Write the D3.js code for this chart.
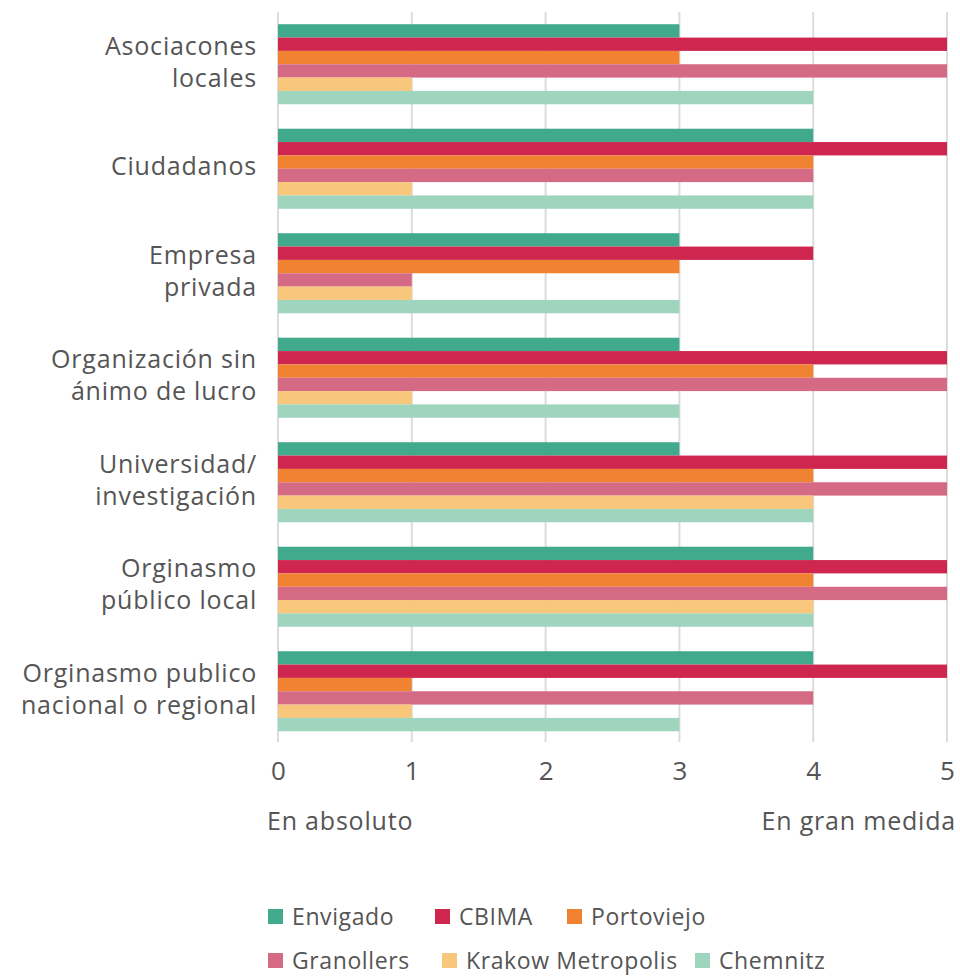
<!DOCTYPE html>
<html>
<head>
<meta charset="utf-8">
<script src="https://cdn.jsdelivr.net/npm/d3@7"></script>
<style>
  body { margin: 0; background: #fff; }
  text { font-family: "Open Sans", sans-serif; fill: #555; }
</style>
</head>
<body>
<svg width="960" height="976"></svg>
<script>
// categories, two lines each
var categories = [
  ["Asociacones", "locales"],
  ["Ciudadanos"],
  ["Empresa", "privada"],
  ["Organización sin", "ánimo de lucro"],
  ["Universidad/", "investigación"],
  ["Orginasmo", "público local"],
  ["Orginasmo publico", "nacional o regional"]
];
var seriesNames = ["Envigado", "CBIMA", "Portoviejo", "Granollers", "Krakow Metropolis", "Chemnitz"];
var seriesColors = ["#41a98c", "#cf2650", "#f08232", "#d56a84", "#f9c77b", "#9fd5bf"];

var envigado   = [3, 4, 3, 3, 3, 4, 4];
var cbima      = [5, 5, 4, 5, 5, 5, 5];
var portoviejo = [3, 4, 3, 4, 4, 4, 1];
var granollers = [5, 4, 1, 5, 5, 5, 4];
var krakow     = [1, 1, 1, 1, 4, 4, 1];
var chemnitz   = [4, 4, 3, 3, 4, 4, 3];
var seriesValues = [envigado, cbima, portoviejo, granollers, krakow, chemnitz];

var xTicks = [0, 1, 2, 3, 4, 5];

var svg = d3.select("svg");

var x = d3.scaleLinear().domain([0, 5]).range([278, 947]);
var y = d3.scaleBand()
  .domain(d3.range(categories.length))
  .range([12, 743.5])
  .paddingInner(0.234)
  .paddingOuter(0.117);
var ySub = d3.scaleBand()
  .domain(d3.range(seriesNames.length))
  .range([0, y.bandwidth()]);

// grid
svg.append("g")
  .selectAll("line")
  .data(xTicks)
  .enter()
  .append("line")
  .attr("x1", d => x(d))
  .attr("x2", d => x(d))
  .attr("y1", 12)
  .attr("y2", 742)
  .attr("stroke", "#dcdcdc")
  .attr("stroke-width", 2);

// bars
var groups = svg.append("g")
  .selectAll("g")
  .data(categories)
  .enter()
  .append("g")
  .attr("transform", (d, i) => "translate(0," + y(i) + ")");

groups.selectAll("rect")
  .data((d, i) => seriesValues.map((s, j) => ({ s: j, v: s[i] })))
  .enter()
  .append("rect")
  .attr("x", x(0))
  .attr("y", d => ySub(d.s))
  .attr("width", d => x(d.v) - x(0))
  .attr("height", ySub.bandwidth())
  .attr("fill", d => seriesColors[d.s]);

// category labels
groups.append("text")
  .attr("text-anchor", "end")
  .attr("font-size", 25)
  .attr("letter-spacing", 0.8)
  .attr("x", 257)
  .each(function (d) {
    var t = d3.select(this);
    var mid = y.bandwidth() / 2 - 2;
    var lh = 32;
    var start = mid - (d.length - 1) * lh / 2;
    d.forEach((line, k) => {
      t.append("tspan")
        .attr("x", 257)
        .attr("y", start + k * lh)
        .attr("dy", "0.35em")
        .text(line);
    });
  });

// x axis labels
var xAxis = d3.axisBottom(x).tickValues(xTicks).tickFormat(d3.format("d")).tickSize(0).tickPadding(0);
var ax = svg.append("g")
  .attr("transform", "translate(0,762)")
  .call(xAxis);
ax.select(".domain").remove();
ax.selectAll("text")
  .attr("font-size", 26)
  .attr("fill", "#555")
  .style("font-family", "'Open Sans', sans-serif");

svg.append("text")
  .attr("x", 267)
  .attr("y", 830)
  .attr("font-size", 25)
  .attr("letter-spacing", 0.8)
  .text("En absoluto");
svg.append("text")
  .attr("x", 956)
  .attr("y", 830)
  .attr("font-size", 25)
  .attr("letter-spacing", 0.8)
  .attr("text-anchor", "end")
  .text("En gran medida");

// legend
var legendPos = [
  [268, 917], [435, 917], [567, 917],
  [268, 961], [442, 961], [695, 961]
];
var leg = svg.append("g")
  .selectAll("g")
  .data(seriesNames)
  .enter()
  .append("g")
  .attr("transform", (d, i) => "translate(" + legendPos[i][0] + "," + legendPos[i][1] + ")");
leg.append("rect")
  .attr("x", 0)
  .attr("y", -8)
  .attr("width", 15)
  .attr("height", 15)
  .attr("fill", (d, i) => seriesColors[i]);
leg.append("text")
  .attr("x", 24)
  .attr("dy", "0.35em")
  .attr("font-size", 23)
  .attr("letter-spacing", 0.6)
  .text(d => d);
</script>
</body>
</html>
